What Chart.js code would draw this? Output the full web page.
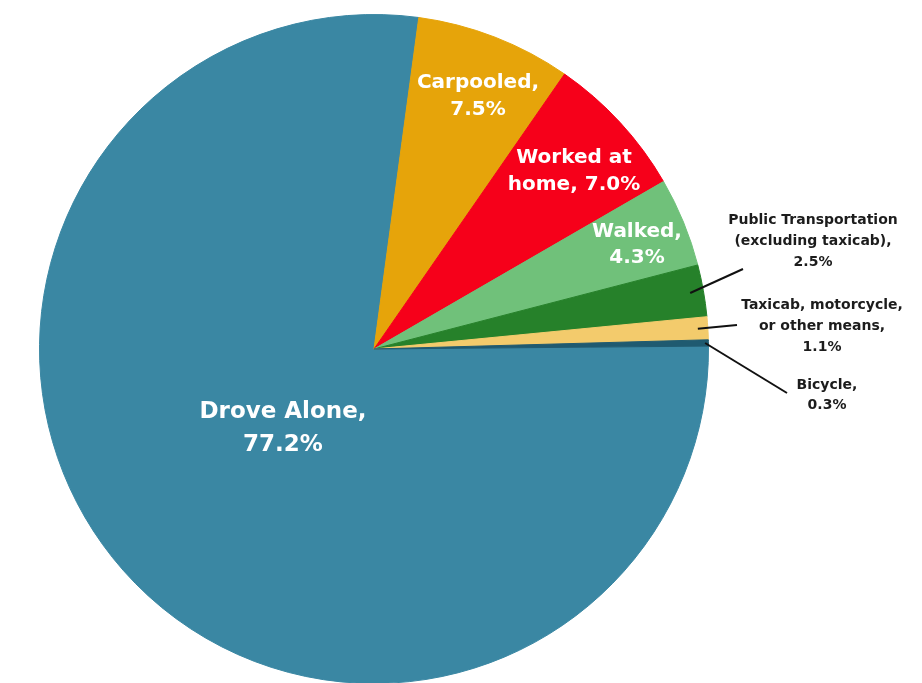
<!DOCTYPE html>
<html>
<head>
<meta charset="utf-8">
<title>Means of Transportation to Work</title>
<script src="https://cdn.jsdelivr.net/npm/chart.js@4.4.1/dist/chart.umd.min.js"></script>
<style>
  html, body { margin: 0; padding: 0; background: #ffffff; overflow: hidden; }
  #commuteChart { display: block; }
</style>
</head>
<body>
<canvas id="commuteChart" width="922" height="700"></canvas>
<script>
// commute mode shares (percent of workers)
var modes = [
  "Drove Alone",
  "Carpooled",
  "Worked at home",
  "Walked",
  "Public Transportation (excluding taxicab)",
  "Taxicab, motorcycle, or other means",
  "Bicycle",
];
var shares = [77.2, 7.5, 7.0, 4.3, 2.5, 1.1, 0.3];

// label lines, {v} is replaced by the share
var labelText = [
  ["Drove Alone,", "{v}"],
  ["Carpooled,", "{v}"],
  ["Worked at", "home, {v}"],
  ["Walked,", "{v}"],
  ["Public Transportation", "(excluding taxicab),", "{v}"],
  ["Taxicab, motorcycle,", "or other means,", "{v}"],
  ["Bicycle,", "{v}"],
];

var sliceColors = [
  "#3a87a3", // Drove alone
  "#e6a40a", // Carpooled
  "#f6001a", // Worked at home
  "#70c17a", // Walked
  "#26812a", // Public transportation
  "#f3cb6c", // Taxicab / other
  "#1f5a70", // Bicycle
];

// where each label sits, offsets from the pie centre
var labelLayout = [
  { dx: -91, dy: 63, lh: 33, size: 23, color: "#ffffff" },
  { dx: 104, dy: -266, lh: 27, size: 20, color: "#ffffff" },
  { dx: 200, dy: -191, lh: 27, size: 20, color: "#ffffff" },
  { dx: 263, dy: -117, lh: 26, size: 20, color: "#ffffff" },
  { dx: 439, dy: -129, lh: 21, size: 14, color: "#1c1c1c", lineEnd: [369, -80], lineFrac: 0.96 },
  { dx: 448, dy: -44, lh: 21, size: 14, color: "#1c1c1c", lineEnd: [363, -24], lineFrac: 0.97 },
  { dx: 453, dy: 36, lh: 20, size: 14, color: "#1c1c1c", lineEnd: [413, 44], lineFrac: 0.99 },
];

var sliceLabels = {
  id: "sliceLabels",
  afterDatasetsDraw: function (chart) {
    var ctx = chart.ctx;
    var arcs = chart.getDatasetMeta(0).data;
    ctx.save();
    arcs.forEach(function (arc, i) {
      var cfg = labelLayout[i];
      var cx = arc.x;
      var cy = arc.y;

      if (cfg.lineEnd) {
        var mid = (arc.startAngle + arc.endAngle) / 2;
        var r0 = arc.outerRadius * cfg.lineFrac;
        ctx.beginPath();
        ctx.moveTo(cx + Math.cos(mid) * r0, cy + Math.sin(mid) * r0);
        ctx.lineTo(cx + cfg.lineEnd[0], cy + cfg.lineEnd[1]);
        ctx.strokeStyle = "#111111";
        ctx.lineWidth = 2;
        ctx.stroke();
      }

      ctx.fillStyle = cfg.color;
      ctx.font = "bold " + cfg.size + "px 'DejaVu Sans'";
      ctx.textAlign = "center";
      ctx.textBaseline = "middle";
      var valueText = shares[i].toFixed(1) + "%";
      labelText[i].forEach(function (line, k) {
        ctx.fillText(
          line.replace("{v}", valueText),
          cx + cfg.dx,
          cy + cfg.dy + k * cfg.lh
        );
      });
    });
    ctx.restore();
  },
};

new Chart(document.getElementById("commuteChart"), {
  type: "pie",
  data: {
    labels: modes,
    datasets: [
      {
        data: shares,
        backgroundColor: sliceColors,
        borderColor: sliceColors,
        borderWidth: 1,
      },
    ],
  },
  options: {
    responsive: false,
    animation: false,
    rotation: 89.5,
    layout: {
      padding: { left: 39, right: 213, top: 14, bottom: 16 },
    },
    plugins: {
      legend: { display: false },
      tooltip: { enabled: false },
    },
  },
  plugins: [sliceLabels],
});
</script>
</body>
</html>
